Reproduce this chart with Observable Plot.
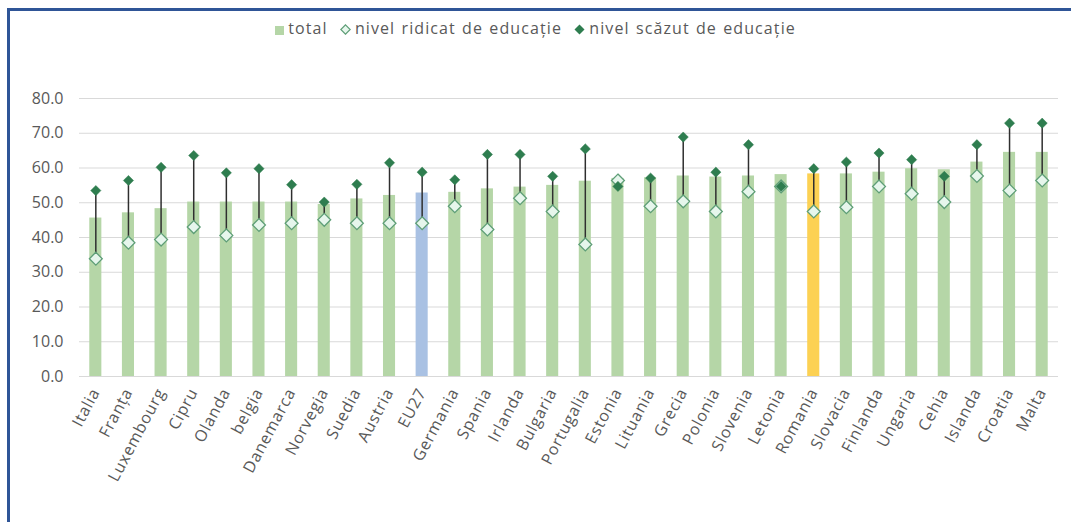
<!DOCTYPE html>
<html>
<head>
<meta charset="utf-8">
<script src="https://cdn.jsdelivr.net/npm/d3@7"></script>
<script src="https://cdn.jsdelivr.net/npm/@observablehq/plot@0.6"></script>
<style>
  html, body { margin: 0; padding: 0; background: #fff; }
  #wrap { position: relative; width: 1071px; height: 522px; overflow: hidden; font-family: "Open Sans", sans-serif; }
  #frame { position: absolute; left: 7px; top: 8px; width: 1080px; height: 530px; border-left: 3px solid #2F5597; border-top: 3px solid #2F5597; box-sizing: border-box; pointer-events: none; }
  #legend { position: absolute; top: 17px; left: 0; width: 1071px; text-align: center; font-size: 16px; color: #595959; letter-spacing: 1.1px; word-spacing: 1px; white-space: nowrap; }
  #legend span.item { margin: 0 3px; }
  #legend svg { vertical-align: -1px; margin-right: 4px; }
  #chart { position: absolute; left: 0; top: 0; }
  .xax text { letter-spacing: 0.8px; }
</style>
</head>
<body>
<div id="wrap">
  <div id="chart"></div>
  <div id="legend">
    <span class="item"><svg width="9" height="9"><rect width="9" height="9" fill="#b5d6a7"/></svg>total</span>
    <span class="item"><svg width="11" height="11"><path d="M5.5,0.8L10.2,5.5L5.5,10.2L0.8,5.5Z" fill="#e6f6ec" stroke="#5e9e77" stroke-width="1.2"/></svg>nivel ridicat de educație</span>
    <span class="item"><svg width="11" height="11"><path d="M5.5,0.5L10.5,5.5L5.5,10.5L0.5,5.5Z" fill="#2e7d4f"/></svg>nivel scăzut de educație</span>
  </div>
  <div id="frame"></div>
</div>
<script>
const countries = ["Italia","Franța","Luxembourg","Cipru","Olanda","belgia","Danemarca","Norvegia","Suedia","Austria","EU27","Germania","Spania","Irlanda","Bulgaria","Portugalia","Estonia","Lituania","Grecia","Polonia","Slovenia","Letonia","Romania","Slovacia","Finlanda","Ungaria","Cehia","Islanda","Croatia","Malta"];
const total = [45.6,47.1,48.3,50.2,50.2,50.2,50.2,49.5,51.1,52.1,52.8,53.0,54.0,54.5,55.0,56.2,57.0,57.2,57.7,57.4,57.7,58.1,58.3,58.3,58.8,59.8,59.5,61.7,64.5,64.5];
const highEdu = [33.9,38.5,39.4,43.0,40.6,43.6,44.1,45.1,44.1,44.1,44.1,49.0,42.3,51.3,47.5,38.0,56.4,49.0,50.4,47.5,53.2,54.7,47.5,48.7,54.7,52.6,50.2,57.7,53.5,56.4];
const lowEdu = [53.5,56.4,60.2,63.6,58.6,59.8,55.2,50.2,55.3,61.5,58.8,56.6,63.9,63.9,57.6,65.5,54.7,57.1,68.9,58.8,66.7,54.7,59.8,61.7,64.3,62.4,57.6,66.7,72.9,72.9];
const yTicks = [0,10,20,30,40,50,60,70,80];

const data = countries.map((c, i) => ({country: c, total: total[i], high: highEdu[i], low: lowEdu[i]}));
const barFill = d => d.country === "EU27" ? "#a9c1e3" : d.country === "Romania" ? "#fcd153" : "#b5d6a7";

const chart = Plot.plot({
  width: 1071,
  height: 522,
  marginLeft: 79,
  marginRight: 13,
  marginTop: 98,
  marginBottom: 146,
  style: {fontFamily: "'Open Sans', sans-serif", color: "#595959", background: "transparent", overflow: "visible"},
  x: {domain: countries, paddingInner: 0.63, paddingOuter: 0.315, round: false, label: null},
  y: {domain: [0, 80], label: null},
  marks: [
    Plot.ruleY(yTicks, {stroke: "#d9d9d9", strokeWidth: 1}),
    Plot.axisY({ticks: yTicks, tickFormat: d3.format(".1f"), tickSize: 0, tickPadding: 16, fontSize: 16, fill: "#595959", label: null}),
    Plot.axisX({tickRotate: -62, tickSize: 0, tickPadding: 13, fontSize: 16, fill: "#595959", label: null, className: "xax"}),
    Plot.barY(data, {x: "country", y: "total", fill: barFill}),
    Plot.ruleX(data, {x: "country", y1: "high", y2: "low", stroke: "#2f2f2f", strokeWidth: 1.5}),
    Plot.dot(data, {x: "country", y: "high", symbol: "diamond2", r: 5.8, fill: "#e6f6ec", stroke: "#5e9e77", strokeWidth: 1.3}),
    Plot.dot(data, {x: "country", y: "low", symbol: "diamond2", r: 4.6, fill: "#2e7d4f", stroke: "#2e7d4f", strokeWidth: 0.5})
  ]
});
document.getElementById("chart").appendChild(chart);
</script>
</body>
</html>
